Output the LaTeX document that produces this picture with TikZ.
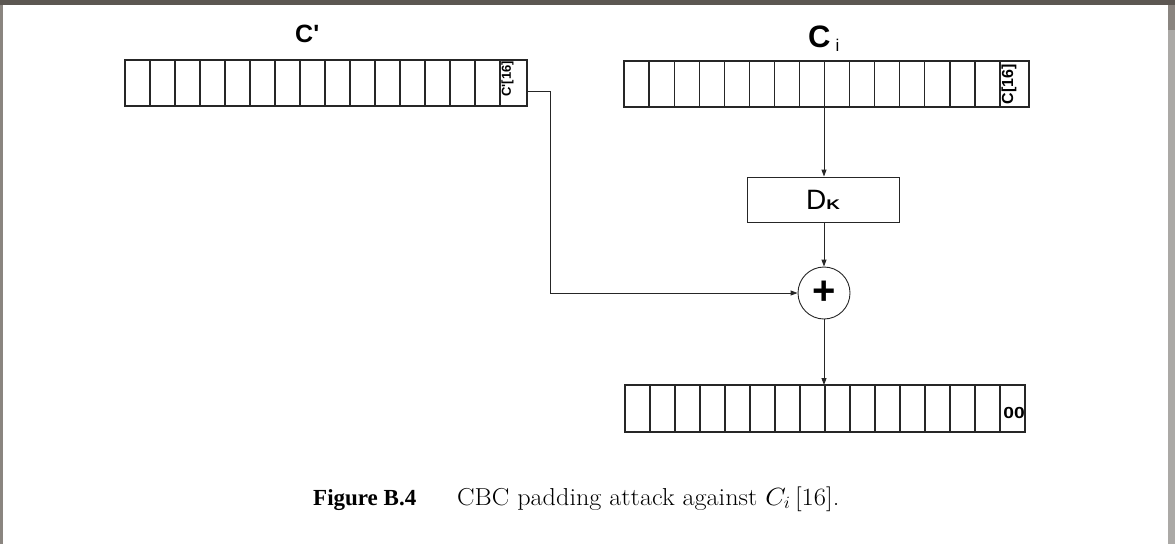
\documentclass[tikz,border=0pt]{standalone}
\usepackage{fontspec}
\setmainfont{Liberation Serif}
\newfontfamily\arial{Liberation Sans}
\usetikzlibrary{arrows.meta}
\definecolor{framegray}{HTML}{8A8580}
\definecolor{framedark}{HTML}{5C5752}
\definecolor{framelight}{HTML}{ABA9A6}
\begin{document}
\begin{tikzpicture}[x=1pt,y=-1pt,
  arr/.style={-{Triangle[length=7pt,width=5pt]}, line width=0.9pt, draw=black!85},
  regbox/.style={draw=black!85, line width=1.3pt, inner sep=0pt, outer sep=0pt},
  cellline/.style={draw=black!85, line width=1.2pt},
  lbl/.style={inner sep=0pt, anchor=base west},
  celltext/.style={inner sep=0pt, font=\arial\bfseries}]
\useasboundingbox (0,0) rectangle (1175,544);
\fill[framegray] (0,0) rectangle (1175,544);
\fill[framedark] (0,0) rectangle (1175,5);
\fill[framelight] (1168,30) rectangle (1175,544);
\fill[white] (3,5) rectangle (1168,544);

% registers
\node[regbox, minimum width=402pt, minimum height=46pt] (L) at (326,83) {};
\foreach \i in {1,...,15}
  \draw[cellline] ([xshift=25*\i pt]L.north west) -- ([xshift=25*\i pt]L.south west);
\node[regbox, minimum width=405pt, minimum height=46pt] (R) at (826.5,84) {};
\foreach \i in {1,...,15}
  \draw[cellline] ([xshift=25.07*\i pt]R.north west) -- ([xshift=25.07*\i pt]R.south west);
\node[regbox, minimum width=400pt, minimum height=47pt] (B) at (825,408.5) {};
\foreach \i in {1,...,15}
  \draw[cellline] ([xshift=25*\i pt]B.north west) -- ([xshift=25*\i pt]B.south west);

% cell texts
\node[celltext, rotate=90, font=\arial\bfseries\fontsize{13}{13}\selectfont] (l16) at (507.5,79) {C\symbol{39}[16]};
\node[celltext, rotate=90, font=\arial\bfseries\fontsize{16}{16}\selectfont] (r16) at (1009,84) {C[16]};
\node[celltext, font=\arial\bfseries\fontsize{16}{16}\selectfont] (b16) at (1014,412.5) {\scalebox{1.2}[1]{00}};

% labels
\node[lbl, font=\arial\bfseries\fontsize{25}{25}\selectfont] (lc) at (295,42) {C\symbol{39}};
\node[lbl, font=\arial] (rc) at (808,47) {{\bfseries\fontsize{31}{31}\selectfont C}\hspace{5pt}\raisebox{-4pt}{\fontsize{17}{17}\selectfont i}};

% decryption box and xor
\node[draw=black!85, line width=0.9pt, minimum width=152pt, minimum height=45pt, inner sep=0pt, font=\arial] (DK) at (823,199.5)
  {{\fontsize{28}{28}\selectfont D}{\bfseries\fontsize{14}{14}\selectfont\scalebox{1.35}[1]{K}}};
\node[draw=black!85, line width=0.9pt, circle, minimum size=52pt, inner sep=0pt, font=\arial\bfseries\fontsize{40}{40}\selectfont] (xor) at (824,293) {\raisebox{1pt}{+}};

% connectors
\draw[arr] (R.south -| xor) -- (DK.north -| xor);
\draw[arr] (DK.south -| xor) -- (xor.north);
\draw[arr] (xor.south) -- (B.north -| xor);
\coordinate (tap) at (527,91);
\coordinate (bend) at (550,293);
\draw[arr] (tap) -- (tap -| bend) -- (bend) -- (xor.west);

% caption
\node[lbl, font=\bfseries\fontsize{23}{23}\selectfont] (fig) at (313,505) {Figure B.4};
\node[lbl, font=\fontfamily{lmr}\fontsize{24.5}{24.5}\selectfont] (cap) at (457,505)
  {\scalebox{1.07}[1]{CBC padding attack against $C_i\,[16]$.}};
\end{tikzpicture}
\end{document}
